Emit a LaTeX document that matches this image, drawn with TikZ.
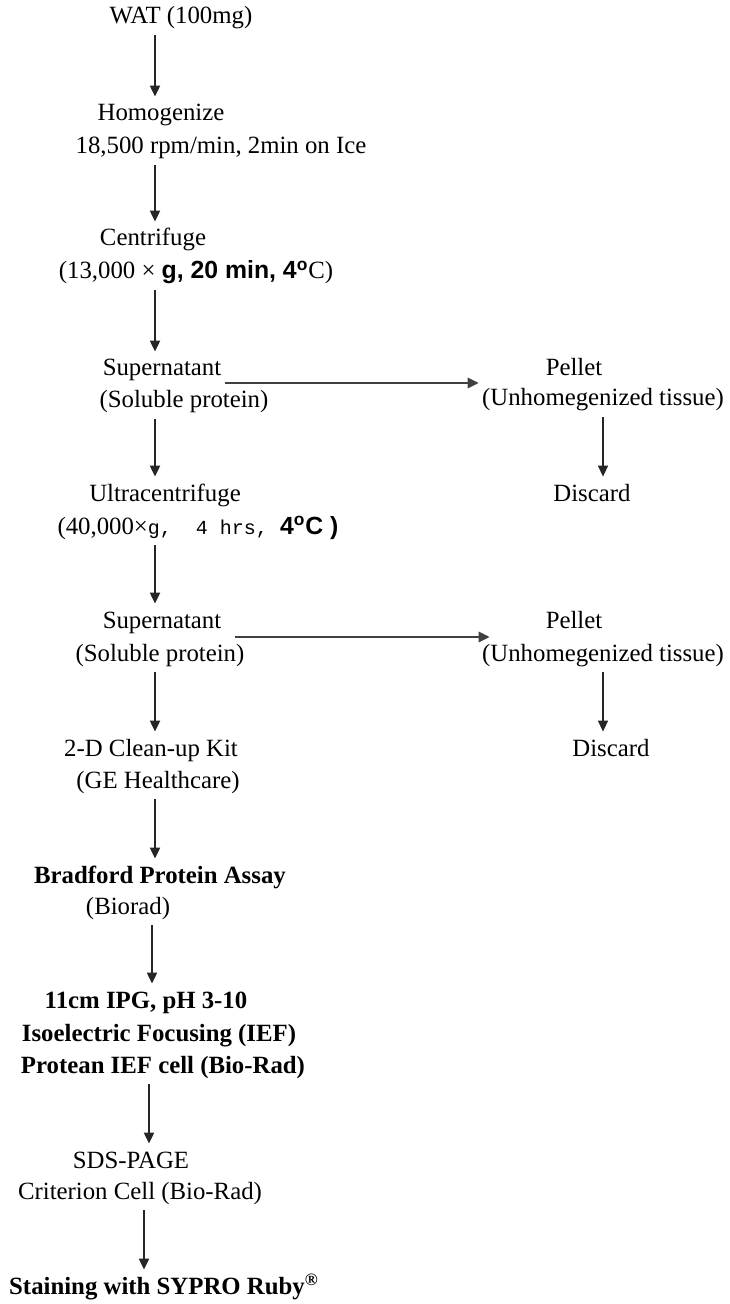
\documentclass[tikz,border=0pt]{standalone}
\usepackage{fontspec}
\setmainfont{Liberation Serif}
\newfontfamily\sansf{Liberation Sans}
\newfontfamily\monof{Liberation Mono}
\usepackage{tikz}
\usetikzlibrary{positioning,arrows.meta,calc}

\tikzset{
  lbl/.style={inner sep=0pt, text height=9pt, text depth=3pt,
    font=\fontsize{12.4}{14}\selectfont},
  lblb/.style={lbl, font=\fontsize{12.4}{14}\selectfont\bfseries},
  flow/.style={draw=black!85, line width=1pt,
    -{Triangle[width=5pt,length=5.5pt]},
    shorten <=2.5pt, shorten >=3pt},
  side/.style={flow, line width=1.3pt, draw=black!75,
    shorten <=1.5pt, shorten >=1.5pt},
  discardline/.style={flow, line width=0.7pt},
}

\begin{document}
\begin{tikzpicture}[x=0.5pt, y=-0.5pt]
  \useasboundingbox (0,0) rectangle (729,1304);

  \coordinate (ax1) at (155,0);
  \coordinate (ax2) at (152,0);
  \coordinate (ax3) at (149,0);
  \coordinate (ax4) at (144,0);
  \coordinate (ax5) at (603,0);

  \node[lbl] (wat) at (181,18) {WAT (100mg)};
  \node[lbl] (hom1) at (161,115) {Homogenize};
  \node[lbl] (hom2) at (221,148) {18,500 rpm/min, 2min on Ice};
  \node[lbl] (cen1) at (153,240) {Centrifuge};
  \node[lbl] (cen2) at (196,273) {(13,000 × {\sansf\bfseries g, 20 min, 4\textsuperscript{o}}C)};

  \node[lbl] (supa1) at (162,370) {Supernatant};
  \node[lbl] (supb1) at (184,402) {(Soluble protein)};
  \node[lbl] (pela1) at (574,370) {Pellet};
  \node[lbl] (pelb1) at (603,400) {(Unhomegenized tissue)};
  \node[lbl] (dis1) at (592,495) {Discard};

  \node[lbl] (ult1) at (165,495) {Ultracentrifuge};
  \node[lbl] (ult2) at (198,528) {(40,000×{\monof\fontsize{10}{12}\selectfont g,\ \ 4 hrs,\ }{\sansf\bfseries 4\textsuperscript{o}C )}};

  \node[lbl] (supa2) at (162,622) {Supernatant};
  \node[lbl] (supb2) at (160,655) {(Soluble protein)};
  \node[lbl] (pela2) at (574,622) {Pellet};
  \node[lbl] (pelb2) at (603,655) {(Unhomegenized tissue)};
  \node[lbl] (dis2) at (611,750) {Discard};

  \node[lbl] (kit1) at (151,750) {2-D Clean-up Kit};
  \node[lbl] (kit2) at (158,782) {(GE Healthcare)};
  \node[lblb] (brad1) at (160,877) {Bradford Protein Assay};
  \node[lbl] (brad2) at (128,908) {(Biorad)};
  \node[lblb] (ipg1) at (146,1002) {11cm IPG, pH 3-10};
  \node[lblb] (ipg2) at (159,1035) {Isoelectric Focusing (IEF)};
  \node[lblb] (ipg3) at (163,1067) {Protean IEF cell (Bio-Rad)};
  \node[lbl] (sds1) at (131,1162) {SDS-PAGE};
  \node[lbl] (sds2) at (140,1193) {Criterion Cell (Bio-Rad)};
  \node[lblb] (stain) at (164,1288) {Staining with SYPRO Ruby\textsuperscript{\textregistered}};

  \draw[flow] (wat.south -| ax1) -- (hom1.north -| ax1);
  \draw[flow] (hom2.south -| ax1) -- (cen1.north -| ax1);
  \draw[flow] (cen2.south -| ax1) -- (supa1.north -| ax1);
  \draw[flow] (supb1.south -| ax1) -- (ult1.north -| ax1);
  \draw[flow] (ult2.south -| ax1) -- (supa2.north -| ax1);
  \draw[flow] (supb2.south -| ax1) -- (kit1.north -| ax1);
  \draw[flow] (kit2.south -| ax1) -- (brad1.north -| ax1);
  \draw[flow] (brad2.south -| ax2) -- (ipg1.north -| ax2);
  \draw[flow] (ipg3.south -| ax3) -- (sds1.north -| ax3);
  \draw[flow] (sds2.south -| ax4) -- (stain.north -| ax4);

  \draw[side] ([yshift=-6.5pt]supa1.east) -- ([yshift=-6.5pt]supa1.east -| pelb1.west);
  \draw[side, shorten <=6.5pt, shorten >=-4pt] ([yshift=-7.5pt]supa2.east) -- ([yshift=-7.5pt]supa2.east -| pelb2.west);

  \draw[discardline] (pelb1.south -| ax5) -- (dis1.north -| ax5);
  \draw[discardline] (pelb2.south -| ax5) -- (dis2.north -| ax5);
\end{tikzpicture}
\end{document}
